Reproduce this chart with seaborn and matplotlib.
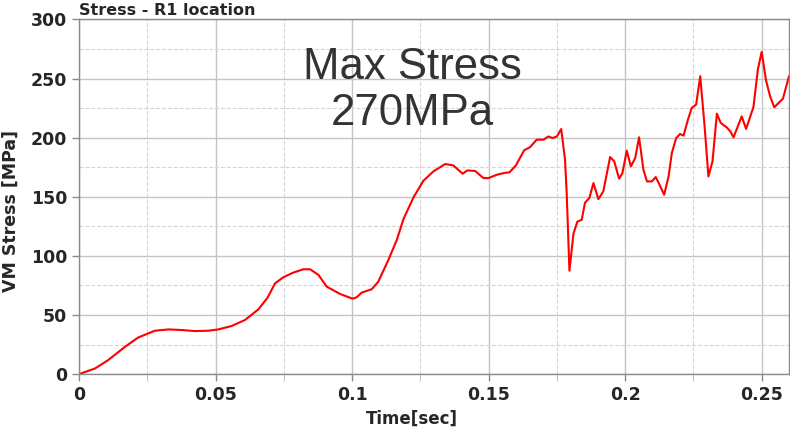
import numpy as np
import pandas as pd
import seaborn as sns
import matplotlib.pyplot as plt
from matplotlib.ticker import MultipleLocator, FuncFormatter

# Dados (tempo em s, tensão de von Mises em MPa)
time_s = [0.0, 0.0059, 0.0107, 0.0168, 0.0217, 0.0278, 0.0327, 0.0376, 0.0425, 0.0474,
          0.0510, 0.0559, 0.0608, 0.0657, 0.0690, 0.0718, 0.0748, 0.0785, 0.0822, 0.0846,
          0.0877, 0.0907, 0.0956, 0.1002, 0.1017, 0.1035, 0.1072, 0.1096, 0.1133, 0.1164,
          0.1188, 0.1225, 0.1261, 0.1298, 0.1341, 0.1371, 0.1405, 0.1422, 0.1451, 0.1481,
          0.1499, 0.1530, 0.1560, 0.1576, 0.1600, 0.1630, 0.1652, 0.1676, 0.1701, 0.1719,
          0.1734, 0.1750, 0.1756, 0.1766, 0.1780, 0.1786, 0.1796, 0.1811, 0.1825, 0.1841,
          0.1853, 0.1869, 0.1884, 0.1902, 0.1920, 0.1945, 0.1960, 0.1978, 0.1990, 0.2006,
          0.2021, 0.2037, 0.2051, 0.2067, 0.2080, 0.2098, 0.2112, 0.2126, 0.2143, 0.2159,
          0.2171, 0.2187, 0.2201, 0.2214, 0.2230, 0.2244, 0.2260, 0.2275, 0.2291, 0.2305,
          0.2320, 0.2336, 0.2350, 0.2372, 0.2385, 0.2397, 0.2427, 0.2443, 0.2470, 0.2486,
          0.2500, 0.2516, 0.2531, 0.2546, 0.2578, 0.2600]
vm_stress = [0.0, 4.8, 11.9, 23.0, 31.0, 36.7, 37.8, 37.3, 36.4, 36.7,
             37.8, 40.7, 45.8, 54.8, 64.5, 76.8, 81.9, 85.9, 88.7, 88.7,
             83.9, 74.0, 67.8, 63.8, 65.0, 68.9, 71.8, 78.2, 96.6, 113.6,
             131.0, 149.5, 163.5, 171.5, 177.7, 176.5, 169.5, 172.3, 171.8, 165.8,
             165.8, 168.6, 170.3, 170.6, 176.5, 189.3, 192.0, 198.3, 198.3, 201.0,
             199.7, 201.0, 203.4, 207.3, 181.0, 153.0, 87.5, 119.0, 129.0, 130.5,
             145.0, 149.0, 161.6, 148.0, 154.5, 183.6, 180.0, 165.3, 170.0, 189.0,
             175.7, 182.8, 200.3, 172.9, 163.0, 163.0, 166.7, 160.2, 151.7, 167.2,
             187.0, 199.7, 203.1, 201.7, 215.3, 225.2, 228.0, 252.0, 209.6, 167.2,
             180.0, 220.3, 212.5, 208.7, 205.4, 200.3, 218.0, 207.4, 226.0, 257.6,
             272.6, 248.3, 235.0, 225.7, 233.0, 252.0]

df = pd.DataFrame({'Tempo': time_s, 'Tensao': vm_stress})

sns.set_style('white')
plt.rcParams['font.family'] = ['DejaVu Sans']

fig = plt.figure(figsize=(7.9, 4.32), dpi=100)
ax = fig.add_axes([0.1, 0.134, 0.8987, 0.821])

sns.lineplot(data=df, x='Tempo', y='Tensao', ax=ax, color='#ff0000', linewidth=1.5)

ax.set_xlim(0, 0.26)
ax.set_ylim(0, 300)
ax.xaxis.set_major_locator(MultipleLocator(0.05))
ax.xaxis.set_minor_locator(MultipleLocator(0.025))
ax.yaxis.set_major_locator(MultipleLocator(50))
ax.yaxis.set_minor_locator(MultipleLocator(25))
ax.xaxis.set_major_formatter(FuncFormatter(lambda v, p: f'{v:g}'))

# Grade principal sólida, secundária tracejada
ax.grid(which='major', color='#c4c4c4', linewidth=1.0, linestyle='-')
ax.grid(which='minor', color='#d6d6d6', linewidth=0.8, linestyle='--')
ax.set_axisbelow(True)

for lado in ['top', 'right', 'bottom', 'left']:
    ax.spines[lado].set_color('#8a8a8a')
    ax.spines[lado].set_linewidth(1.0)

ax.tick_params(axis='both', which='major', labelsize=12.5, direction='out', length=5,
               color='#8a8a8a', width=1.0, bottom=True, left=True)
ax.tick_params(axis='x', which='minor', direction='out', length=5, color='#b0b0b0', bottom=True)
ax.tick_params(axis='y', which='major', right=True)
for lbl in ax.get_xticklabels() + ax.get_yticklabels():
    lbl.set_fontweight('bold')

ax.set_xlabel('Time[sec]', fontsize=12, fontweight='bold')
ax.set_ylabel('VM Stress [MPa]', fontsize=12.5, fontweight='bold')
ax.xaxis.set_label_coords(0.469, -0.1)
ax.yaxis.set_label_coords(-0.083, 0.46)

fig.text(0.1, 0.958, 'Stress - R1 location', fontsize=11.5, fontweight='bold',
         ha='left', va='bottom')

ax.text(0.469, 0.80, 'Max Stress\n270MPa', transform=ax.transAxes, ha='center', va='center',
        fontsize=31.5, color='#333333', family=['Liberation Sans', 'DejaVu Sans'],
        linespacing=1.15)

plt.savefig('out.png', dpi=100)
